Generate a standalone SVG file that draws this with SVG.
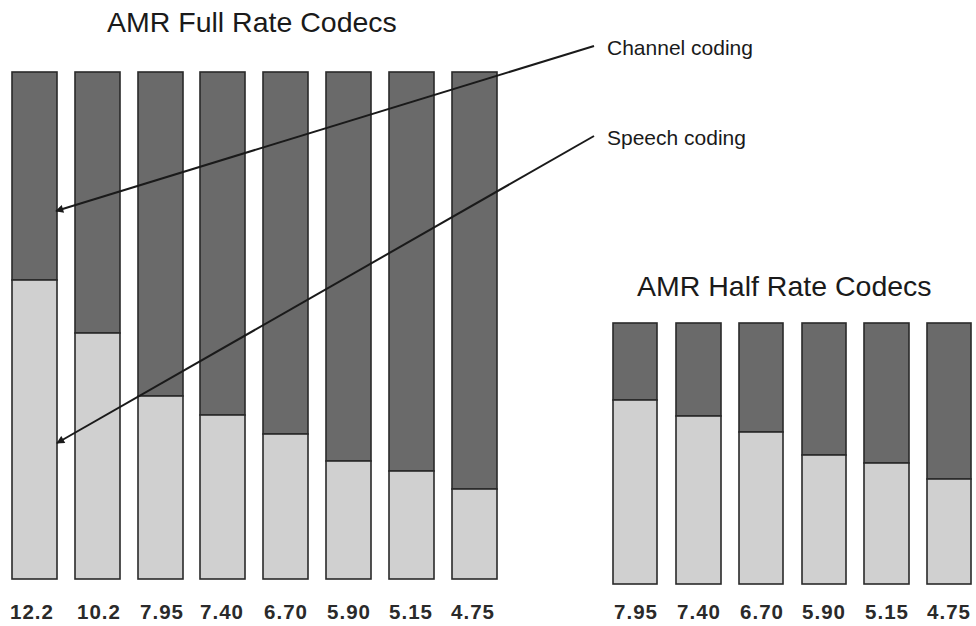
<svg xmlns="http://www.w3.org/2000/svg" width="976" height="626" viewBox="0 0 976 626">
<defs>
<style>
.ch{fill:#6a6a6a;stroke:#2a2a2a;stroke-width:1.6}
.sp{fill:#d0d0d0;stroke:#2a2a2a;stroke-width:1.6}
.title{font-family:"Liberation Sans",Arial,sans-serif;font-size:28.5px;fill:#1a1a1a}
.lbl{font-family:"Liberation Sans",Arial,sans-serif;font-size:21px;fill:#1a1a1a}
.num{font-family:"Liberation Sans",Arial,sans-serif;font-size:20.5px;font-weight:bold;fill:#2a2a2a;text-anchor:middle;letter-spacing:1px}
.ld{stroke:#1a1a1a;stroke-width:2;fill:none}
</style>
<marker id="ah" viewBox="0 0 10 10" refX="9" refY="5" markerWidth="9" markerHeight="8" orient="auto" markerUnits="userSpaceOnUse">
<path d="M0,0 L10,5 L0,10 z" fill="#1a1a1a"/>
</marker>
</defs>
<rect width="976" height="626" fill="#ffffff"/>

<text class="title" x="107" y="32">AMR Full Rate Codecs</text>
<text class="title" x="637" y="296">AMR Half Rate Codecs</text>

<g id="fr-12.2"><rect class="ch" x="12" y="72" width="45" height="208"/><rect class="sp" x="12" y="280" width="45" height="299"/><text class="num" x="32" y="619">12.2</text></g>
<g id="fr-10.2"><rect class="ch" x="75" y="72" width="45" height="261"/><rect class="sp" x="75" y="333" width="45" height="246"/><text class="num" x="99" y="619">10.2</text></g>
<g id="fr-7.95"><rect class="ch" x="138" y="72" width="45" height="324"/><rect class="sp" x="138" y="396" width="45" height="183"/><text class="num" x="162" y="619">7.95</text></g>
<g id="fr-7.40"><rect class="ch" x="200" y="72" width="45" height="343"/><rect class="sp" x="200" y="415" width="45" height="164"/><text class="num" x="222" y="619">7.40</text></g>
<g id="fr-6.70"><rect class="ch" x="263" y="72" width="45" height="362"/><rect class="sp" x="263" y="434" width="45" height="145"/><text class="num" x="286" y="619">6.70</text></g>
<g id="fr-5.90"><rect class="ch" x="326" y="72" width="45" height="389"/><rect class="sp" x="326" y="461" width="45" height="118"/><text class="num" x="349" y="619">5.90</text></g>
<g id="fr-5.15"><rect class="ch" x="389" y="72" width="45" height="399"/><rect class="sp" x="389" y="471" width="45" height="108"/><text class="num" x="411" y="619">5.15</text></g>
<g id="fr-4.75"><rect class="ch" x="452" y="72" width="45" height="417"/><rect class="sp" x="452" y="489" width="45" height="90"/><text class="num" x="473" y="619">4.75</text></g>

<g id="hr-7.95"><rect class="ch" x="613" y="323" width="44" height="77"/><rect class="sp" x="613" y="400" width="44" height="184"/><text class="num" x="636" y="619">7.95</text></g>
<g id="hr-7.40"><rect class="ch" x="676" y="323" width="45" height="93"/><rect class="sp" x="676" y="416" width="45" height="168"/><text class="num" x="699" y="619">7.40</text></g>
<g id="hr-6.70"><rect class="ch" x="739" y="323" width="44" height="109"/><rect class="sp" x="739" y="432" width="44" height="152"/><text class="num" x="762" y="619">6.70</text></g>
<g id="hr-5.90"><rect class="ch" x="802" y="323" width="44" height="132"/><rect class="sp" x="802" y="455" width="44" height="129"/><text class="num" x="824" y="619">5.90</text></g>
<g id="hr-5.15"><rect class="ch" x="864" y="323" width="45" height="140"/><rect class="sp" x="864" y="463" width="45" height="121"/><text class="num" x="887" y="619">5.15</text></g>
<g id="hr-4.75"><rect class="ch" x="927" y="323" width="44" height="156"/><rect class="sp" x="927" y="479" width="44" height="105"/><text class="num" x="949" y="619">4.75</text></g>

<g id="legend-channel"><text class="lbl" x="607" y="55">Channel coding</text></g>
<g id="legend-speech"><text class="lbl" x="607" y="145">Speech coding</text></g>

<g id="connectors">
<line class="ld" x1="594" y1="46" x2="56" y2="211" marker-end="url(#ah)"/>
<line class="ld" x1="594" y1="136" x2="57" y2="443" marker-end="url(#ah)"/>
</g>
</svg>
